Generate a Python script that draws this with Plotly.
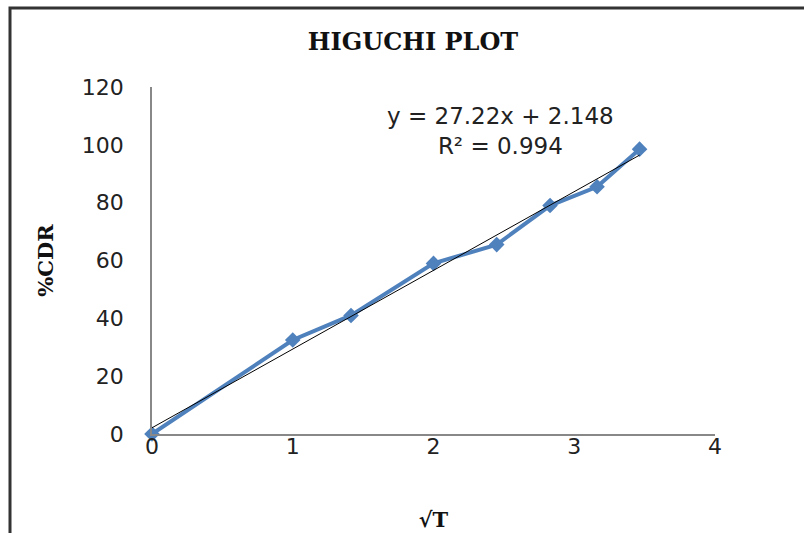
import plotly.graph_objects as go

x_sqrt_t = [0, 1, 1.414, 2, 2.449, 2.828, 3.162, 3.464]
cdr = [0, 32.5, 41, 59, 65.5, 79, 85.5, 98.5]
slope = 27.22
intercept = 2.148
eq_text = "y = 27.22x + 2.148<br>R² = 0.994"
x_ticks = [0, 1, 2, 3, 4]
y_ticks = [0, 20, 40, 60, 80, 100, 120]

trend_x = [min(x_sqrt_t), max(x_sqrt_t)]
trend_y = [slope * v + intercept for v in trend_x]

fig = go.Figure()
fig.add_trace(go.Scatter(
    x=x_sqrt_t, y=cdr, mode="lines+markers",
    line=dict(color="#4F81BD", width=4),
    marker=dict(symbol="diamond", size=12, color="#4F81BD"),
    showlegend=False, cliponaxis=False))
fig.add_trace(go.Scatter(
    x=trend_x, y=trend_y, mode="lines",
    line=dict(color="black", width=1),
    showlegend=False, cliponaxis=False))

L, R, T, B = 152, 89, 87, 99
W, H = 804, 533
pw, ph = W - L - R, H - T - B

def px(xp):
    return (xp - L) / pw

def py(yp):
    return (H - B - yp) / ph

tick_font = dict(family="DejaVu Sans", size=22, color="#222222")
title_font = dict(family="DejaVu Serif", size=21, color="#111111")

fig.update_layout(
    width=W, height=H,
    margin=dict(l=L, r=R, t=T, b=B, autoexpand=False),
    paper_bgcolor="white", plot_bgcolor="white",
    showlegend=False,
    xaxis=dict(range=[0, 4], tickvals=x_ticks, showgrid=False, zeroline=False,
               showline=True, linecolor="#888888", linewidth=1.5,
               ticks="", ticklen=0, ticklabelstandoff=-8, automargin=False,
               tickfont=tick_font,
               title=dict(text="<b>√T</b>", font=title_font, standoff=54)),
    yaxis=dict(range=[0, 120], tickvals=y_ticks, showgrid=False, zeroline=False,
               showline=True, linecolor="#888888", linewidth=1.5,
               ticks="", ticklen=0, ticklabelstandoff=22, automargin=False,
               tickfont=tick_font,
               title=dict(text="<b>%CDR</b>", font=title_font, standoff=22)),
    title=dict(text="<b>HIGUCHI PLOT</b>", x=px(413), xref="paper", xanchor="center",
               y=1 - 42 / H, yanchor="middle",
               font=dict(family="DejaVu Serif", size=24, color="#111111")),
)

fig.add_annotation(x=px(500), y=py(131), xref="paper", yref="paper",
                   xanchor="center", yanchor="middle",
                   text=eq_text, showarrow=False, align="center",
                   font=dict(family="DejaVu Sans", size=23, color="#222222"))

fig.add_shape(type="rect", xref="paper", yref="paper",
              x0=px(10), x1=px(830), y0=py(560), y1=py(8),
              line=dict(color="#333333", width=3), fillcolor="rgba(0,0,0,0)")

fig.write_html("out.html")
